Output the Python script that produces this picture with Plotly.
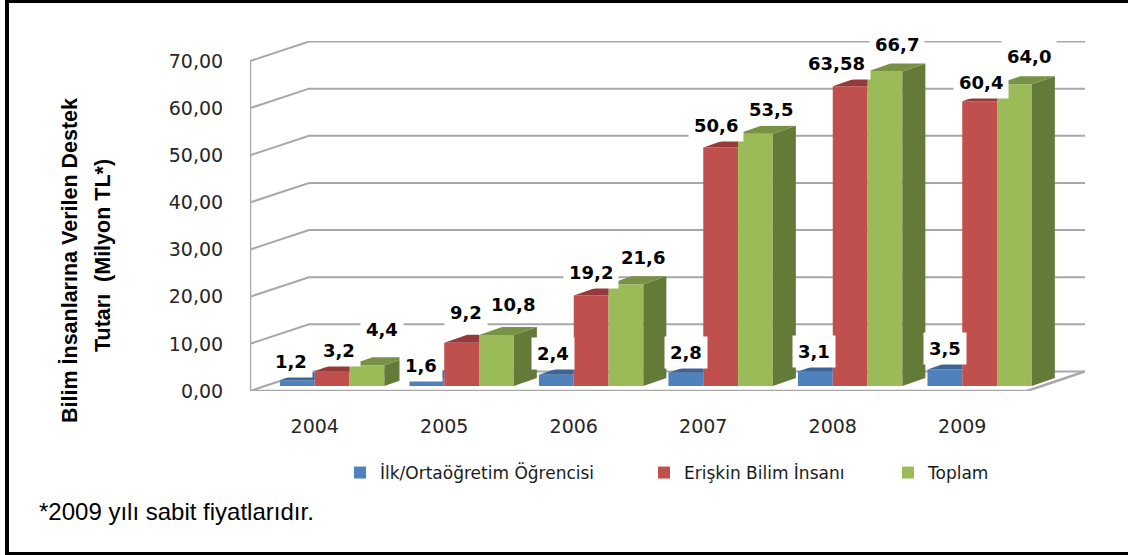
import plotly.graph_objects as go

years = [2004, 2005, 2006, 2007, 2008, 2009]
ilk = [1.2, 1.6, 2.4, 2.8, 3.1, 3.5]
eriskin = [3.2, 9.2, 19.2, 50.6, 63.58, 60.4]
toplam = [4.4, 10.8, 21.6, 53.5, 66.7, 64.0]
ilk_labels = ["1,2", "1,6", "2,4", "2,8", "3,1", "3,5"]
eriskin_labels = ["3,2", "9,2", "19,2", "50,6", "63,58", "60,4"]
toplam_labels = ["4,4", "10,8", "21,6", "53,5", "66,7", "64,0"]
y_ticks = [0, 10, 20, 30, 40, 50, 60, 70]
y_tick_labels = ["0,00", "10,00", "20,00", "30,00", "40,00", "50,00", "60,00", "70,00"]

# pixel frame of the plot area
W, H = 1128, 555
L, R, T, B = 250, 1085, 41, 391
PX_X = 129.5            # px per year
PX_Y = 4.714            # px per unit
xmin = 2003.5
xmax = xmin + (R - L) / PX_X
ymax = (B - T) / PX_Y

# depth of the pseudo-3D box and bars, in data units
WALL_DX, WALL_DY = 59 / PX_X, 19.5 / PX_Y
BAR_W = 34.8 / PX_X
BAR_DX, BAR_DY = 23 / PX_X, 8 / PX_Y
BAR_BASE = 5 / PX_Y
GRID = "#a8a8a8"

series = [
    ("İlk/Ortaöğretim Öğrencisi", ilk, ilk_labels, -BAR_W, "#4F81BD", "#3D6594", None),
    ("Erişkin Bilim İnsanı", eriskin, eriskin_labels, 0, "#C0504D", "#943B39", None),
    ("Toplam", toplam, toplam_labels, BAR_W, "#9BBB59", "#789145", "#647A39"),
]
# label offsets from the top-centre of each bar front, px
label_dx = [[-6, -6, -3, 0, -1, 0], [7, 4, 0, -5, -14, 1], [15, 17, 17, 16, 12, 15]]
label_up = [[19, 12.5, 21, 20, 20, 21.5], [20, 30, 22.5, 21.5, 23, 19], [36, 31, 27, 24, 27, 28]]
legend_x_px = [340, 644, 888]

fig = go.Figure()
annotations = []
for i, (name, vals, labs, off, col, top, side) in enumerate(series):
    fig.add_trace(go.Bar(
        x=years, y=vals, base=BAR_BASE, offset=off, width=BAR_W, name=name,
        marker=dict(color=col, line=dict(width=0)),
        legend="legend" if i == 0 else f"legend{i + 1}",
        hoverinfo="x+y",
    ))
    for j, (yr, v) in enumerate(zip(years, vals)):
        x0, x1 = yr + off, yr + off + BAR_W
        y1 = BAR_BASE + v
        if side is None:
            # the next bar hides what passes its left edge
            px = [x0, x1, x1, x0 + BAR_DX, x0]
            py = [y1, y1, y1 + BAR_DY, y1 + BAR_DY, y1]
        else:
            px = [x0, x1, x1 + BAR_DX, x0 + BAR_DX, x0]
            py = [y1, y1, y1 + BAR_DY, y1 + BAR_DY, y1]
            fig.add_trace(go.Scatter(
                x=[x1, x1 + BAR_DX, x1 + BAR_DX, x1, x1],
                y=[BAR_BASE, BAR_BASE + BAR_DY, y1 + BAR_DY, y1, BAR_BASE],
                fill="toself", fillcolor=side, mode="none",
                showlegend=False, hoverinfo="skip"))
        fig.add_trace(go.Scatter(x=px, y=py, fill="toself", fillcolor=top, mode="none",
                                 showlegend=False, hoverinfo="skip"))
        annotations.append(dict(
            x=x0 + BAR_W / 2, y=y1, xref="x", yref="y", text=labs[j], showarrow=False,
            xshift=label_dx[i][j], yshift=label_up[i][j], xanchor="center", yanchor="middle",
            font=dict(family="DejaVu Sans", size=18, color="#000000", weight="bold"),
            bgcolor="#ffffff", borderpad=5))

shapes = []
line = dict(color=GRID, width=2)
for t in y_ticks:
    yb = t + WALL_DY
    shapes.append(dict(type="path", layer="below", xref="x", yref="y",
                       path=f"M{xmin},{t} L{xmin + WALL_DX},{yb} L{xmax},{yb}", line=line))
# left wall edge, floor
shapes.append(dict(type="line", layer="below", xref="x", yref="y",
                   x0=xmin, x1=xmin, y0=0, y1=y_ticks[-1], line=dict(color=GRID, width=2.5)))
xfront = years[-1] + 0.5
shapes.append(dict(type="path", layer="below", xref="x", yref="y",
                   path=f"M{xmin},0 L{xfront},0 L{xmax},{WALL_DY}", line=dict(color=GRID, width=2.5)))

# frame: left, top and bottom rules
def fx(px):
    return (px - L) / (R - L)
def fy(px):
    return (B - px) / (B - T)
for (a, b, c, d) in [(5, 0, 9, 555), (5, 0, 1128, 3), (5, 552, 1128, 555)]:
    shapes.append(dict(type="rect", xref="paper", yref="paper", layer="above",
                       x0=fx(a), x1=fx(c), y0=fy(b), y1=fy(d),
                       fillcolor="#000000", line=dict(width=0)))

annotations.append(dict(
    x=fx(37), y=fy(511), xref="paper", yref="paper", xanchor="left", yanchor="middle",
    text="*2009 yılı sabit fiyatlarıdır.", showarrow=False,
    font=dict(family="Liberation Sans", size=24, color="#000000")))
title_font = dict(family="Liberation Sans", size=21.5, color="#000000", weight="bold")
for text, tx, ty in [("Bilim İnsanlarına Verilen Destek", 70, 261),
                     ("Tutarı  (Milyon TL*)", 103, 256)]:
    annotations.append(dict(x=fx(tx), y=fy(ty), xref="paper", yref="paper", text=text,
                            textangle=-90, showarrow=False, xanchor="center", yanchor="middle",
                            font=title_font))

legend_font = dict(family="DejaVu Sans", size=17, color="#1a1a1a")
legends = {}
for i, lx in enumerate(legend_x_px):
    key = "legend" if i == 0 else f"legend{i + 1}"
    legends[key] = dict(x=fx(lx), y=fy(473), xanchor="left", yanchor="middle",
                        font=legend_font, bgcolor="rgba(0,0,0,0)", itemwidth=30,
                        orientation="h")

fig.update_layout(
    width=W, height=H, margin=dict(l=L, r=W - R, t=T, b=H - B),
    paper_bgcolor="#ffffff", plot_bgcolor="#ffffff",
    barmode="overlay", showlegend=True, shapes=shapes, annotations=annotations,
    xaxis=dict(range=[xmin, xmax], tickmode="array", tickvals=years,
               ticktext=[str(y) for y in years], showgrid=False, zeroline=False,
               ticks="outside", ticklen=18, tickcolor="rgba(0,0,0,0)",
               tickfont=dict(family="DejaVu Sans", size=19, color="#262626")),
    yaxis=dict(range=[0, ymax], tickmode="array", tickvals=y_ticks, ticktext=y_tick_labels,
               showgrid=False, zeroline=False, ticks="outside", ticklen=22,
               tickcolor="rgba(0,0,0,0)",
               tickfont=dict(family="DejaVu Sans", size=19, color="#262626")),
    **legends,
)
fig.write_html("out.html", config={"displayModeBar": False},
               post_script="document.body.style.margin='0';")
